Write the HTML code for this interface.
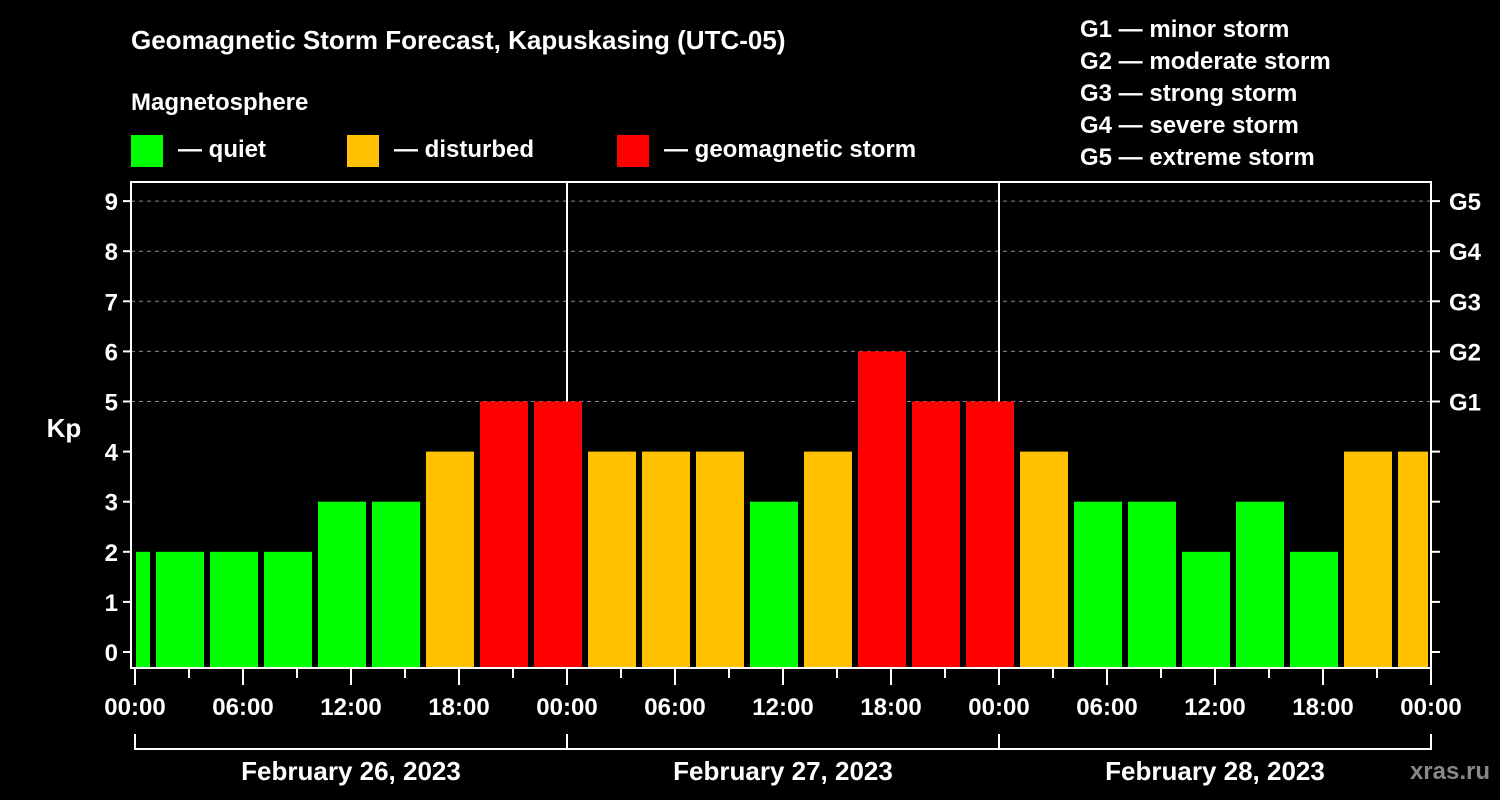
<!DOCTYPE html>
<html><head><meta charset="utf-8"><style>
body{margin:0;background:#000;}
svg{display:block;font-family:"Liberation Sans",Arial,sans-serif;font-weight:bold;}
</style></head><body>
<svg id="c" width="1500" height="800" viewBox="0 0 1500 800">
<rect width="1500" height="800" fill="#000"/>
<text x="131" y="49" fill="#fff" font-size="26">Geomagnetic Storm Forecast, Kapuskasing (UTC-05)</text>
<text x="131" y="110" fill="#fff" font-size="24">Magnetosphere</text>
<g><rect x="131" y="135" width="32" height="32" fill="#00ff00"/><text x="178" y="157" fill="#fff" font-size="24">— quiet</text></g>
<g><rect x="347" y="135" width="32" height="32" fill="#ffc000"/><text x="394" y="157" fill="#fff" font-size="24">— disturbed</text></g>
<g><rect x="617" y="135" width="32" height="32" fill="#ff0000"/><text x="664" y="157" fill="#fff" font-size="24">— geomagnetic storm</text></g>
<g fill="#fff" font-size="24">
<text x="1080" y="37">G1 — minor storm</text>
<text x="1080" y="69">G2 — moderate storm</text>
<text x="1080" y="101">G3 — strong storm</text>
<text x="1080" y="133">G4 — severe storm</text>
<text x="1080" y="165">G5 — extreme storm</text>
</g>
<text x="64" y="437" fill="#fff" font-size="26" text-anchor="middle">Kp</text>
<text x="1490" y="779" fill="#888" font-size="24" text-anchor="end">xras.ru</text>
<g id="grid"></g><g id="bars"></g><g id="axes"></g>
</svg>
<script>
const kpValues=[2,2,2,2,3,3,4,5,5,4,4,4,3,4,6,5,5,4,3,3,2,3,2,4,4];
const yTicks=[0,1,2,3,4,5,6,7,8,9];
const gLabels=["G1","G2","G3","G4","G5"];
const gLevels=[5,6,7,8,9];
const xTickLabels=["00:00","06:00","12:00","18:00","00:00","06:00","12:00","18:00","00:00","06:00","12:00","18:00","00:00"];
const dayLabels=["February 26, 2023","February 27, 2023","February 28, 2023"];
const NS="http://www.w3.org/2000/svg";
const X0=135,PXH=18,Y0=652,PXK=50.1,TOP=182,BOT=668,LEFT=131,RIGHT=1431;
const x=h=>X0+h*PXH, y=v=>Y0-v*PXK;
function mk(tag,attrs,parent){const e=document.createElementNS(NS,tag);for(const k in attrs)e.setAttribute(k,attrs[k]);parent.appendChild(e);return e;}
const grid=document.getElementById('grid'),bars=document.getElementById('bars'),axes=document.getElementById('axes');
gLevels.forEach(v=>{const l=mk('line',{x1:LEFT,x2:RIGHT,y1:y(v),y2:y(v),stroke:'#888','stroke-dasharray':'4,4','stroke-width':1},grid);

});
[1,2].forEach(d=>{const l=mk('line',{x1:x(24*d),x2:x(24*d),y1:TOP,y2:BOT,stroke:'#fff','stroke-width':2},grid);

});
kpValues.forEach((v,i)=>{
 const c=x(-0.5+3*i);let x1=Math.max(c-24,136),x2=Math.min(c+24,1428);
 const col=v>=5?'#ff0000':(v>=4?'#ffc000':'#00ff00');
 const r=mk('rect',{x:x1,y:y(v),width:x2-x1,height:BOT-y(v),fill:col},bars);
 
 
});
const fr=mk('rect',{x:LEFT,y:TOP,width:RIGHT-LEFT,height:BOT-TOP,fill:'none',stroke:'#fff','stroke-width':2},axes);


yTicks.forEach(v=>{
 mk('line',{x1:LEFT-8,x2:LEFT,y1:y(v),y2:y(v),stroke:'#fff','stroke-width':2},axes);
 mk('line',{x1:RIGHT,x2:RIGHT+9,y1:y(v),y2:y(v),stroke:'#fff','stroke-width':2},axes);
 const t=mk('text',{x:LEFT-13,y:y(v)+9,fill:'#fff','font-size':24,'text-anchor':'end'},axes);t.textContent=v;
 
 
});
gLevels.forEach((v,i)=>{const t=mk('text',{x:1449,y:y(v)+9,fill:'#fff','font-size':24},axes);t.textContent=gLabels[i];
 
 });
for(let h=0;h<=72;h+=3){mk('line',{x1:x(h),x2:x(h),y1:BOT,y2:h%6==0?685:678,stroke:'#fff','stroke-width':2},axes);}
xTickLabels.forEach((s,i)=>{const t=mk('text',{x:x(6*i),y:715,fill:'#fff','font-size':24,'text-anchor':'middle'},axes);t.textContent=s;
 
 });
mk('line',{x1:x(0),x2:x(72),y1:749,y2:749,stroke:'#fff','stroke-width':2},axes);
for(let d=0;d<=3;d++)mk('line',{x1:x(24*d),x2:x(24*d),y1:734,y2:750,stroke:'#fff','stroke-width':2},axes);
dayLabels.forEach((s,i)=>{const t=mk('text',{x:x(24*i+12),y:780,fill:'#fff','font-size':26,'text-anchor':'middle'},axes);t.textContent=s;
 
 });
</script>
</body></html>
